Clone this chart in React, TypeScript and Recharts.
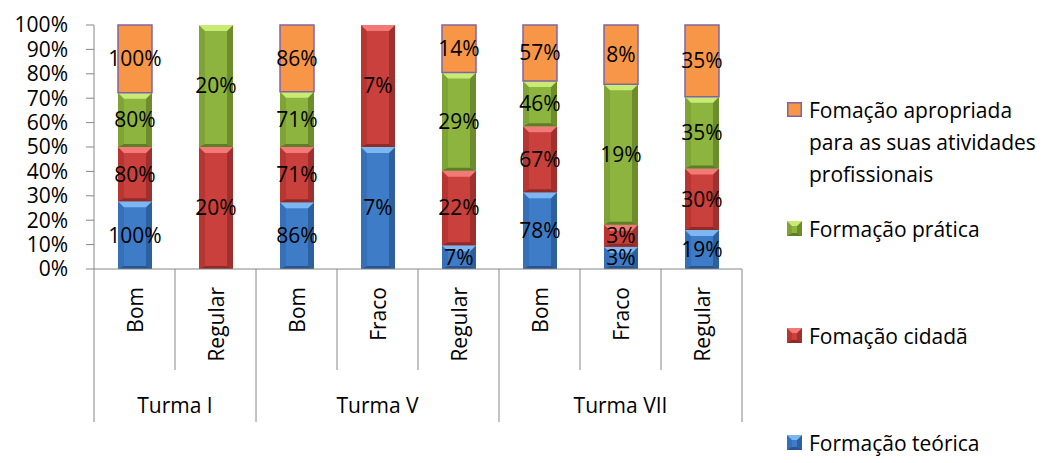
import React from "react";
import { BarChart, Bar, XAxis, YAxis, LabelList } from "recharts";

// Categories (bottom level) and the class they belong to (top level)
const levels = ["Bom", "Regular", "Bom", "Fraco", "Regular", "Bom", "Fraco", "Regular"];
const turmas = ["Turma I", "Turma I", "Turma V", "Turma V", "Turma V", "Turma VII", "Turma VII", "Turma VII"];

// Series values (stacked and normalised to 100% per column)
const teorica = [100, 0, 86, 7, 7, 78, 3, 19];
const cidada = [80, 20, 71, 7, 22, 67, 3, 30];
const pratica = [80, 20, 71, 0, 29, 46, 19, 35];
const apropriada = [100, 0, 86, 0, 14, 57, 8, 35];

const yTicks = [0, 0.1, 0.2, 0.3, 0.4, 0.5, 0.6, 0.7, 0.8, 0.9, 1];

const data = levels.map((level, i) => ({
  key: `${turmas[i]}|${level}`,
  level,
  turma: turmas[i],
  teorica: teorica[i],
  cidada: cidada[i],
  pratica: pratica[i],
  apropriada: apropriada[i],
}));

const FONT = "'Open Sans', sans-serif";
const FS = 21;
const W = 1060;
const H = 463;
const margin = { top: 25, right: 318, bottom: 41, left: 0 };
const Y_AXIS_W = 94;
const band = (W - margin.left - margin.right - Y_AXIS_W) / levels.length;
const gridGray = "#868686";

type Bevel = { base: string; top: string; side: string; dark: string };

const blue: Bevel = { base: "#3f7cc8", top: "#7db7f2", side: "#3570b8", dark: "#28548f" };
const red: Bevel = { base: "#c9403c", top: "#f27a76", side: "#b83632", dark: "#8f2a27" };
const green: Bevel = { base: "#8db43e", top: "#c9eb74", side: "#7fa335", dark: "#5f7c27" };

// Bevelled bar segment in the old office-chart style
const bevelShape = (c: Bevel) => (props: any) => {
  const { x, y, width: w, height: h } = props;
  if (!h || h <= 0) return <g />;
  const b = Math.min(6, h / 3);
  const bb = Math.min(3, h / 4);
  return (
    <g>
      <rect x={x} y={y} width={w} height={h} fill={c.base} />
      <polygon points={`${x},${y} ${x + b},${y + b} ${x + b},${y + h - bb} ${x},${y + h}`} fill={c.side} />
      <polygon points={`${x + w},${y} ${x + w - b},${y + b} ${x + w - b},${y + h - bb} ${x + w},${y + h}`} fill={c.dark} opacity={0.7} />
      <polygon points={`${x},${y} ${x + w},${y} ${x + w - b},${y + b} ${x + b},${y + b}`} fill={c.top} />
      <polygon points={`${x},${y + h} ${x + b},${y + h - bb} ${x + w - b},${y + h - bb} ${x + w},${y + h}`} fill={c.dark} />
    </g>
  );
};

const pct = (v: any) => (v ? `${v}%` : "");

// Two-level category axis: rotated level names, class names below, divider lines
const CategoryTick = (props: any) => {
  const { x, y, index } = props;
  const i = index as number;
  const left = x - band / 2;
  const groupStart = i === 0 || turmas[i] !== turmas[i - 1];
  let groupLabel = null;
  if (groupStart) {
    let n = 0;
    while (i + n < turmas.length && turmas[i + n] === turmas[i]) n++;
    groupLabel = (
      <text x={left + (n * band) / 2} y={y + 144} textAnchor="middle" fontSize={FS} fontFamily={FONT} fill="#000">
        {turmas[i]}
      </text>
    );
  }
  return (
    <g>
      <line x1={left} y1={y} x2={left} y2={y + (groupStart ? 153 : 101)} stroke={gridGray} />
      {i === levels.length - 1 && (
        <line x1={left + band} y1={y} x2={left + band} y2={y + 153} stroke={gridGray} />
      )}
      <text
        x={x + 8}
        y={y + 18}
        transform={`rotate(-90, ${x + 8}, ${y + 18})`}
        textAnchor="end"
        fontSize={FS}
        fontFamily={FONT}
        fill="#000"
      >
        {levels[i]}
      </text>
      {groupLabel}
    </g>
  );
};

const legendItems = [
  { name: ["Fomação apropriada", "para as suas atividades", "profissionais"], kind: "orange", baseline: 118 },
  { name: ["Formação prática"], kind: "green", baseline: 237 },
  { name: ["Fomação cidadã"], kind: "red", baseline: 344 },
  { name: ["Formação teórica"], kind: "blue", baseline: 451 },
];

const LegendSwatch = ({ kind, x, y }: { kind: string; x: number; y: number }) => {
  const s = 15;
  if (kind === "orange") {
    return <rect x={x + 0.75} y={y + 0.75} width={s - 1.5} height={s - 1.5} fill="#F79646" stroke="#8064A2" strokeWidth={1.5} />;
  }
  const c = kind === "green" ? green : kind === "red" ? red : blue;
  return bevelShape(c)({ x, y, width: s, height: s });
};

const LegendBlock = () => (
  <g>
    {legendItems.map((it) => (
      <g key={it.kind}>
        <LegendSwatch kind={it.kind} x={787} y={it.baseline - 16} />
        <text x={809} y={it.baseline} fontSize={FS} fontFamily={FONT} fill="#000">
          {it.name.map((line, k) => (
            <tspan key={k} x={809} dy={k === 0 ? 0 : 32}>
              {line}
            </tspan>
          ))}
        </text>
      </g>
    ))}
  </g>
);

const labelStyle = { fill: "#000", fontSize: FS, fontFamily: FONT };

export default function App() {
  return (
    <div style={{ position: "absolute", left: 0, top: 0, width: W, height: H, background: "#fff" }}>
      <BarChart width={W} height={H} data={data} margin={margin} stackOffset="expand" barSize={34}>
        <XAxis
          dataKey="key"
          interval={0}
          height={153}
          tickSize={0}
          tickMargin={0}
          tickLine={false}
          axisLine={{ stroke: gridGray }}
          tick={<CategoryTick />}
        />
        <YAxis
          type="number"
          domain={[0, 1]}
          ticks={yTicks}
          interval={0}
          tickFormatter={(v: number) => `${Math.round(v * 100)}%`}
          width={Y_AXIS_W}
          tickSize={8}
          tickMargin={18}
          axisLine={{ stroke: gridGray }}
          tickLine={{ stroke: gridGray }}
          tick={labelStyle}
        />
        <Bar dataKey="teorica" stackId="a" isAnimationActive={false} shape={bevelShape(blue)}>
          <LabelList dataKey="teorica" position="center" formatter={pct} style={labelStyle} />
        </Bar>
        <Bar dataKey="cidada" stackId="a" isAnimationActive={false} shape={bevelShape(red)}>
          <LabelList dataKey="cidada" position="center" formatter={pct} style={labelStyle} />
        </Bar>
        <Bar dataKey="pratica" stackId="a" isAnimationActive={false} shape={bevelShape(green)}>
          <LabelList dataKey="pratica" position="center" formatter={pct} style={labelStyle} />
        </Bar>
        <Bar dataKey="apropriada" stackId="a" isAnimationActive={false} fill="#F79646" stroke="#8064A2" strokeWidth={1.5}>
          <LabelList dataKey="apropriada" position="center" formatter={pct} style={labelStyle} />
        </Bar>
        <LegendBlock />
      </BarChart>
    </div>
  );
}
